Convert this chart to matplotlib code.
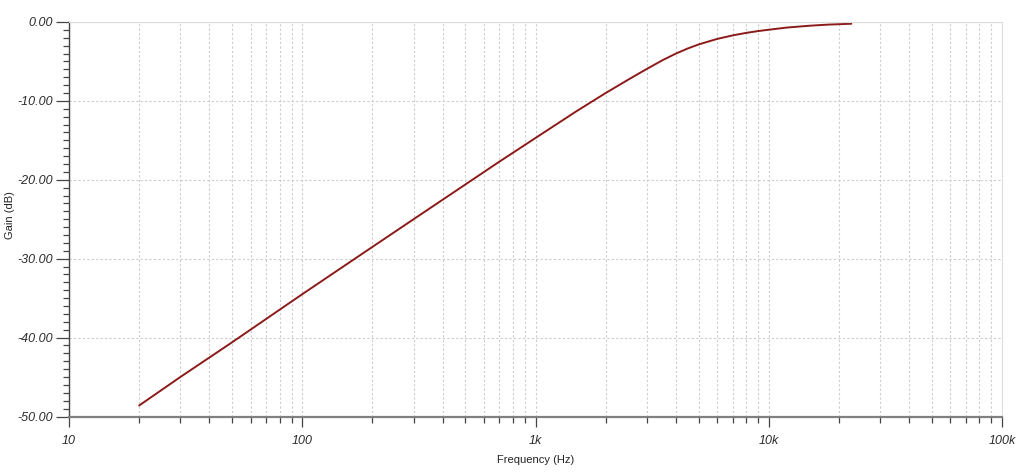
import matplotlib
matplotlib.use("Agg")
import matplotlib.pyplot as plt
from matplotlib.ticker import FixedLocator, FixedFormatter, NullFormatter, MultipleLocator

# values (frequency in Hz, gain in dB)
freq = [20, 30, 50, 100, 200, 300, 500, 700, 1000, 1500, 2000, 2500, 3000,
        3500, 4000, 4500, 5000, 6000, 7000, 8000, 9000, 10000, 12000, 15000,
        18000, 22600]
gain = [-48.6, -45.0, -40.6, -34.5, -28.5, -25.0, -20.6, -17.7, -14.7, -11.3,
        -9.0, -7.3, -5.95, -4.85, -4.0, -3.35, -2.85, -2.15, -1.7, -1.38,
        -1.15, -0.98, -0.7, -0.47, -0.33, -0.22]

x_ticks = [10, 100, 1000, 10000, 100000]
x_labels = ["10", "100", "1k", "10k", "100k"]
y_ticks = [0, -10, -20, -30, -40, -50]
y_labels = ["0.00", "-10.00", "-20.00", "-30.00", "-40.00", "-50.00"]

plt.rcParams['font.family'] = ['Liberation Sans', 'DejaVu Sans']

fig = plt.figure(figsize=(10.24, 4.73), dpi=100)
ax = fig.add_axes([69 / 1024, 1 - 416.5 / 473, (1002 - 69) / 1024, (416.5 - 22) / 473])

ax.plot(freq, gain, color='#8b1a1a', lw=1.4, solid_capstyle='round')

ax.set_xscale('log')
ax.set_xlim(10, 100000)
ax.set_ylim(-50, 0)

ax.xaxis.set_major_locator(FixedLocator(x_ticks))
ax.xaxis.set_major_formatter(FixedFormatter(x_labels))
minors = [m * 10 ** d for d in range(1, 5) for m in range(2, 10)]
ax.xaxis.set_minor_locator(FixedLocator(minors))
ax.xaxis.set_minor_formatter(NullFormatter())

ax.yaxis.set_major_locator(FixedLocator(y_ticks))
ax.yaxis.set_major_formatter(FixedFormatter(y_labels))
ax.yaxis.set_minor_locator(MultipleLocator(1))

# tick lengths in points (100 dpi -> px * 0.72)
ax.tick_params(axis='y', which='major', length=9.4, width=0.9, color='#444444',
               labelsize=9, labelcolor='#2a2a2a', pad=2)
ax.tick_params(axis='y', which='minor', length=4.5, width=0.9, color='#444444')
ax.tick_params(axis='x', which='major', length=7, width=0.9, color='#444444',
               labelsize=9, labelcolor='#2a2a2a', pad=6)
ax.tick_params(axis='x', which='minor', length=4, width=0.9, color='#444444')
for lab in ax.get_xticklabels() + ax.get_yticklabels():
    lab.set_style('italic')

ax.grid(True, which='both', axis='x', ls=(0, (2, 2)), color='#cccccc', lw=0.8)
ax.grid(True, which='major', axis='y', ls=(0, (2, 2)), color='#cccccc', lw=0.8)

ax.spines['left'].set_color('#444444')
ax.spines['left'].set_linewidth(1.0)
ax.spines['bottom'].set_color('#808080')
ax.spines['bottom'].set_linewidth(1.6)
ax.spines['top'].set_color('#dddddd')
ax.spines['right'].set_color('#dddddd')

ax.set_xlabel('Frequency (Hz)', fontsize=8, color='#222222', labelpad=6)
ax.set_ylabel('Gain (dB)', fontsize=8, color='#222222', labelpad=2)
ax.yaxis.set_label_coords(-0.058, 0.51)

fig.savefig('out.png', dpi=100)
